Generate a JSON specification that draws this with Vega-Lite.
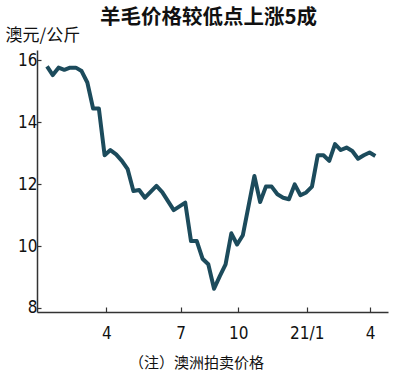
{
  "$schema": "https://vega.github.io/schema/vega-lite/v6.json",
  "width": 351,
  "height": 262,
  "autosize": "none",
  "padding": {"left": 37, "top": 50, "right": 12, "bottom": 70},
  "background": "white",
  "title": {"text": "羊毛价格较低点上涨5成", "font": "Noto Sans CJK SC", "fontSize": 20.5, "fontWeight": "bold", "color": "#111", "anchor": "middle", "frame": "group", "offset": -2, "dx": -4},
  "config": {"view": {"stroke": null}},
  "data": {"values": [
    {"i": 0, "v": 15.80}, {"i": 1, "v": 15.52}, {"i": 2, "v": 15.76}, {"i": 3, "v": 15.69},
    {"i": 4, "v": 15.76}, {"i": 5, "v": 15.76}, {"i": 6, "v": 15.65}, {"i": 7, "v": 15.28},
    {"i": 8, "v": 14.44}, {"i": 9, "v": 14.44}, {"i": 10, "v": 12.93}, {"i": 11, "v": 13.10},
    {"i": 12, "v": 12.96}, {"i": 13, "v": 12.75}, {"i": 14, "v": 12.48}, {"i": 15, "v": 11.78},
    {"i": 16, "v": 11.81}, {"i": 17, "v": 11.56}, {"i": 19, "v": 11.94}, {"i": 20, "v": 11.74},
    {"i": 22, "v": 11.16}, {"i": 24, "v": 11.40}, {"i": 25, "v": 10.16}, {"i": 26, "v": 10.16},
    {"i": 27, "v": 9.59}, {"i": 28, "v": 9.41}, {"i": 29, "v": 8.62}, {"i": 30, "v": 9.03},
    {"i": 31, "v": 9.41}, {"i": 32, "v": 10.41}, {"i": 33, "v": 10.05}, {"i": 34, "v": 10.35},
    {"i": 36, "v": 12.26}, {"i": 37, "v": 11.42}, {"i": 38, "v": 11.92}, {"i": 39, "v": 11.92},
    {"i": 40, "v": 11.67}, {"i": 41, "v": 11.56}, {"i": 42, "v": 11.51}, {"i": 43, "v": 11.99},
    {"i": 44, "v": 11.64}, {"i": 45, "v": 11.73}, {"i": 46, "v": 11.92}, {"i": 47, "v": 12.93},
    {"i": 48, "v": 12.93}, {"i": 49, "v": 12.75}, {"i": 50, "v": 13.29}, {"i": 51, "v": 13.10},
    {"i": 52, "v": 13.18}, {"i": 53, "v": 13.07}, {"i": 54, "v": 12.82}, {"i": 55, "v": 12.93},
    {"i": 56, "v": 13.02}, {"i": 57, "v": 12.91}
  ]},
  "mark": {"type": "line", "color": "#1c4b5c", "strokeWidth": 4, "strokeJoin": "round"},
  "encoding": {
    "x": {
      "field": "i", "type": "quantitative",
      "scale": {"domain": [-1.74, 59.2], "nice": false, "zero": false},
      "axis": {
        "values": [10.3, 23.2, 33.2, 45.1, 56.1],
        "labelExpr": "datum.value < 15 ? '4' : datum.value < 28 ? '7' : datum.value < 40 ? '10' : datum.value < 50 ? '21/1' : '4'",
        "grid": false, "domainColor": "#333", "domainWidth": 1.5,
        "tickColor": "#333", "tickSize": -5, "tickWidth": 1.2,
        "labelFont": "DejaVu Sans Condensed", "labelFontSize": 17, "labelColor": "#111", "labelPadding": 18,
        "title": "（注）澳洲拍卖价格", "titleFont": "Noto Sans CJK SC", "titleFontSize": 15, "titleFontWeight": "normal",
        "titleColor": "#111", "titleX": 159, "titleY": 50.5, "titleAlign": "center", "titleBaseline": "middle"
      }
    },
    "y": {
      "field": "v", "type": "quantitative",
      "scale": {"domain": [7.87, 16.33], "nice": false, "zero": false},
      "axis": {
        "values": [8, 10, 12, 14, 16],
        "grid": false, "domainColor": "#333", "domainWidth": 1.5,
        "tickColor": "#333", "tickSize": -4, "tickWidth": 1.2,
        "labelFont": "DejaVu Sans Condensed", "labelFontSize": 17, "labelColor": "#111", "labelPadding": 4,
        "title": "澳元/公斤", "titleFont": "Noto Sans CJK SC", "titleFontSize": 17, "titleFontWeight": "normal",
        "titleColor": "#111", "titleAngle": 0, "titleX": -32, "titleY": -15, "titleAlign": "left", "titleBaseline": "middle"
      }
    }
  }
}
